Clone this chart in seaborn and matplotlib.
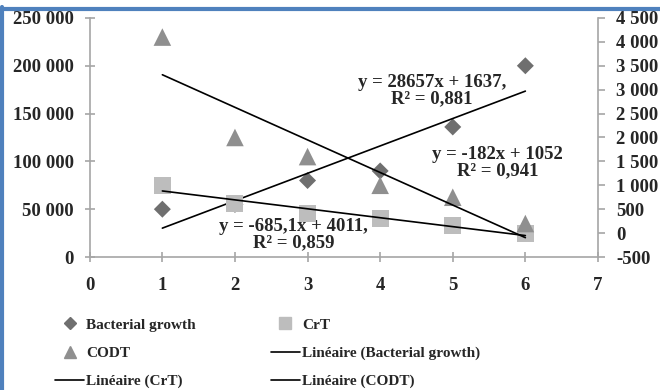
import numpy as np
import matplotlib
matplotlib.use("Agg")
import matplotlib.pyplot as plt
from matplotlib.lines import Line2D
from matplotlib.ticker import FuncFormatter
import seaborn as sns

# values
x = [1, 2, 3, 4, 5, 6]
bacterial_growth = [50000, 55000, 80000, 90000, 136000, 200000]   # left axis
crt = [1000, 620, 420, 300, 150, 0]                                # right axis
codt = [4100, 2000, 1600, 1000, 750, 200]                          # right axis

eq_bg = "y = 28657x + 1637,\nR² = 0,881"
eq_crt = "y = -182x + 1052\nR² = 0,941"
eq_codt = "y = -685,1x + 4011,\nR² = 0,859"

sns.set_style("white")
plt.rcParams['font.family'] = ['Liberation Serif', 'DejaVu Serif']
plt.rcParams['font.weight'] = 'bold'

c_bg, c_crt, c_codt = "#6f6f6f", "#bdbdbd", "#8f8f8f"
spine_c = "#a6a6a6"

fig = plt.figure(figsize=(6.6, 3.9), dpi=100)
ax = fig.add_axes([0.136, 0.341, 0.770, 0.613])
ax2 = ax.twinx()

sns.scatterplot(x=x, y=bacterial_growth, ax=ax, marker="D", s=75, color=c_bg,
                edgecolor="none", zorder=3)
sns.scatterplot(x=x, y=crt, ax=ax2, marker="s", s=150, color=c_crt,
                edgecolor="none", zorder=3)
sns.scatterplot(x=x, y=codt, ax=ax2, marker="^", s=160, color=c_codt,
                edgecolor="none", zorder=3)

# linear trendlines (Excel style), fitted from the data
xs = np.array([x[0], x[-1]])
for data, axis in [(bacterial_growth, ax), (crt, ax2), (codt, ax2)]:
    p = np.polyfit(x, data, 1)
    axis.plot(xs, np.polyval(p, xs), color="black", lw=1.2, zorder=4)

ax.set_xlim(0, 7)
ax.set_ylim(0, 250000)
ax2.set_ylim(-500, 4500)
ax.set_xticks(range(0, 8))
ax.set_yticks(range(0, 250001, 50000))
ax2.set_yticks(range(-500, 4501, 500))
fmt = FuncFormatter(lambda v, _: "{:,.0f}".format(v).replace(",", " "))
ax.yaxis.set_major_formatter(fmt)
ax2.yaxis.set_major_formatter(fmt)

for a in (ax, ax2):
    for s in a.spines.values():
        s.set_color(spine_c)
        s.set_linewidth(1.2)
    a.spines['top'].set_visible(False)
ax.spines['right'].set_visible(False)
ax2.spines['left'].set_visible(False)
ax2.spines['bottom'].set_visible(False)

ax.tick_params(axis='both', direction='inout', length=7, width=1.2, color=spine_c,
               labelsize=13.5, left=True, bottom=True)
ax.tick_params(axis='y', pad=8)
ax.tick_params(axis='x', pad=11)
ax2.tick_params(axis='y', direction='out', length=5, width=1.2, color=spine_c,
                labelsize=13.5, pad=8, right=True)
for lab in ax.get_xticklabels() + ax.get_yticklabels() + ax2.get_yticklabels():
    lab.set_fontweight('bold')

txt = dict(fontsize=13.5, fontweight='bold', ha='center', va='center',
           linespacing=0.95, zorder=5)
ax.text(4.71, 174000, eq_bg, **txt)
ax.text(5.62, 99000, eq_crt, **txt)
ax.text(2.81, 23000, eq_codt, **txt)

handles = [
    Line2D([], [], marker="D", ls="none", color=c_bg, markersize=6),
    Line2D([], [], marker="^", ls="none", color=c_codt, markersize=8),
    Line2D([], [], color="black", lw=1.2),
    Line2D([], [], marker="s", ls="none", color=c_crt, markersize=8),
    Line2D([], [], color="black", lw=1.2),
    Line2D([], [], color="black", lw=1.2),
]
labels = ["Bacterial growth", "CODT", "Linéaire (CrT)",
          "CrT", "Linéaire (Bacterial growth)", "Linéaire (CODT)"]
fig.legend(handles, labels, ncol=2, loc='upper left',
           bbox_to_anchor=(55 / 660, 1 - 318 / 390), frameon=False,
           prop={'size': 11, 'weight': 'bold'}, handlelength=1.9,
           handletextpad=0.15, columnspacing=4.9, labelspacing=0.95,
           borderpad=0, borderaxespad=0)

# blue frame on the left and top edges
fig.add_artist(Line2D([1.5 / 660, 1.5 / 660], [0, 1 - 7 / 390],
                      transform=fig.transFigure, color="#4f81bd", lw=3))
fig.add_artist(Line2D([0, 1], [1 - 8.5 / 390, 1 - 8.5 / 390],
                      transform=fig.transFigure, color="#4f81bd", lw=3))

fig.savefig("out.png", dpi=100)
